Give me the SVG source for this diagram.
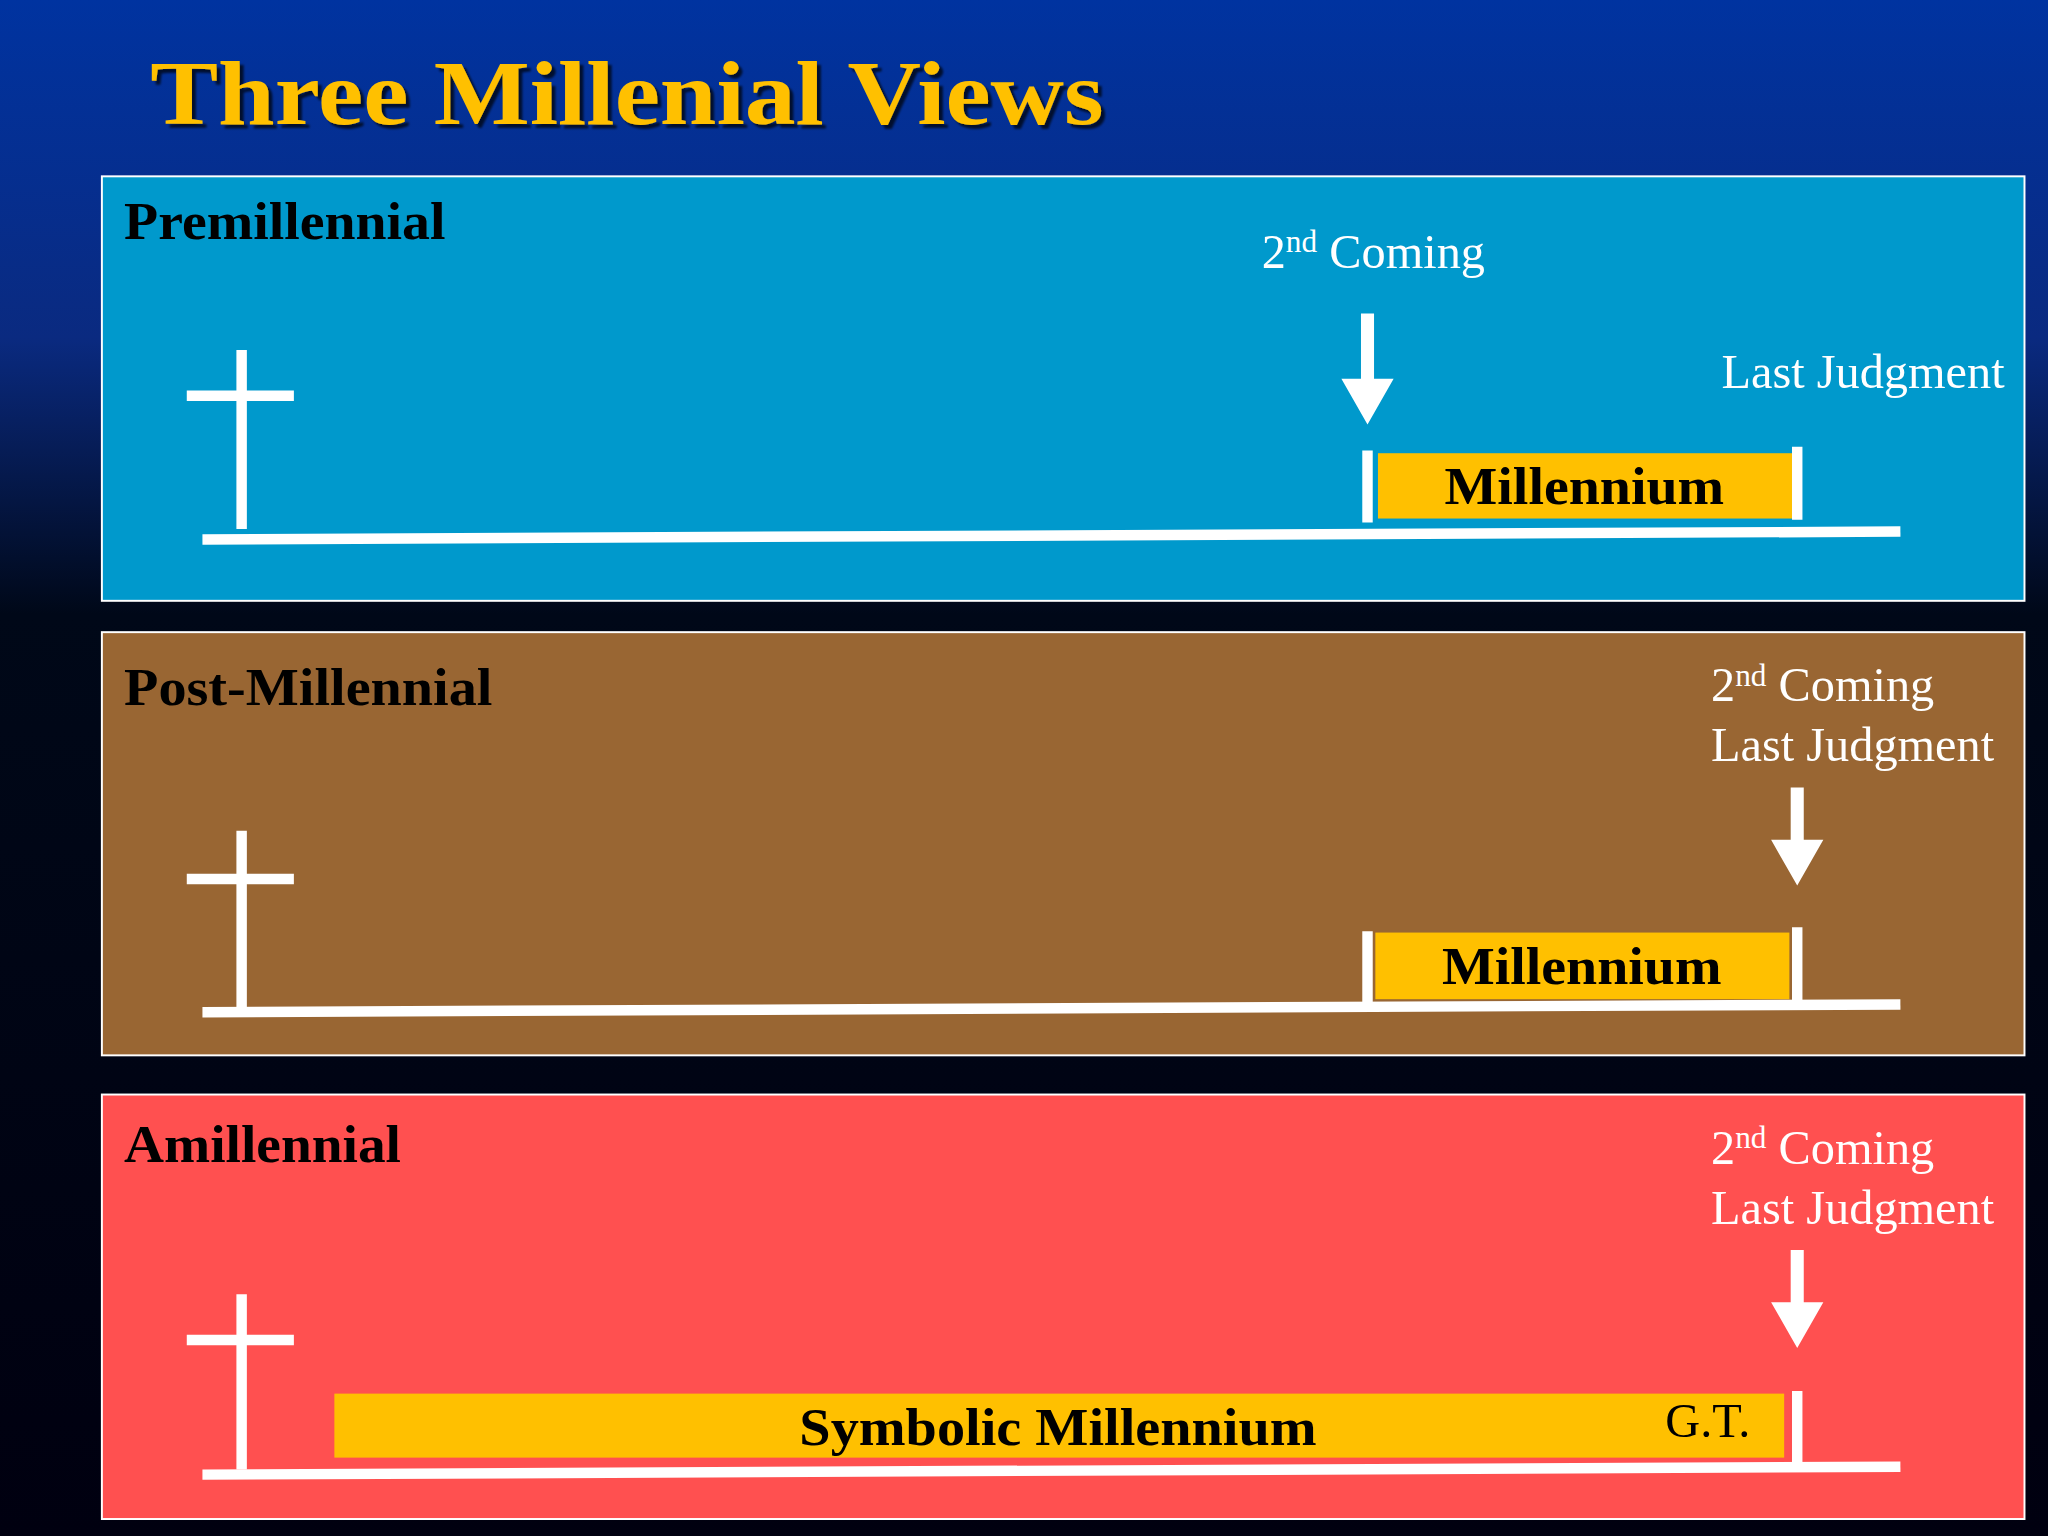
<svg xmlns="http://www.w3.org/2000/svg" width="2048" height="1536" viewBox="0 0 2048 1536">
<defs>
<linearGradient id="bg" x1="0" y1="0" x2="0" y2="1">
<stop offset="0" stop-color="#0033a0"/><stop offset="0.22" stop-color="#0a2a80"/><stop offset="0.4" stop-color="#000818"/><stop offset="1" stop-color="#000010"/>
</linearGradient>
<filter id="sh"><feDropShadow dx="3" dy="3" stdDeviation="1" flood-color="#000" flood-opacity="0.7"/></filter>
<style>
.panel{stroke:#fff;stroke-width:1.5}
.w{stroke:#fff;stroke-width:8;fill:none}
.hd{font-family:"Liberation Serif",serif;font-weight:bold;font-size:40px;fill:#000}
.lb{font-family:"Liberation Serif",serif;font-size:37px;fill:#fff}
.mb{font-family:"Liberation Serif",serif;font-weight:bold;font-size:40px;fill:#000;text-anchor:middle}
.box{fill:#ffc000}
.arr{fill:#fff}
</style>
</defs>
<rect width="2048" height="1536" fill="url(#bg)"/>
<g transform="scale(1.30612)">
<text x="115" y="95" font-family="Liberation Serif,serif" font-weight="bold" font-size="70" fill="#ffc000" filter="url(#sh)" textLength="730" lengthAdjust="spacingAndGlyphs">Three Millenial Views</text>

<g id="premillennial">
<rect class="panel" x="78" y="135" width="1472" height="325" fill="#0099cc"/>
<text class="hd" x="95" y="183" textLength="246" lengthAdjust="spacingAndGlyphs">Premillennial</text>
<path class="w" d="M185 268V405M143 303H225"/>
<rect class="box" x="1055" y="347" width="317" height="50"/>
<text class="mb" x="1213" y="386" textLength="214" lengthAdjust="spacingAndGlyphs">Millennium</text>
<path class="w" d="M1047 345V400M1376 342V398"/>
<path class="arr" d="M1042 240h10v50h15l-20 35l-20-35h15z"/>
<text class="lb" x="966" y="205">2<tspan font-size="24" dy="-12">nd</tspan><tspan dy="12"> Coming</tspan></text>
<text class="lb" x="1318" y="297">Last Judgment</text>
</g>

<g id="postmillennial">
<rect class="panel" x="78" y="484" width="1472" height="324" fill="#996633"/>
<text class="hd" x="95" y="540" textLength="282" lengthAdjust="spacingAndGlyphs">Post-Millennial</text>
<path class="w" d="M185 636V772M143 673H225"/>
<rect class="box" x="1053" y="714" width="317" height="51"/>
<text class="mb" x="1211" y="753" textLength="214" lengthAdjust="spacingAndGlyphs">Millennium</text>
<path class="w" d="M1047 713V768M1376 710V766"/>
<path class="arr" d="M1371 603h10v40h15l-20 35l-20-35h15z"/>
<text class="lb" x="1310" y="537">2<tspan font-size="24" dy="-12">nd</tspan><tspan dy="12"> Coming</tspan></text>
<text class="lb" x="1310" y="583">Last Judgment</text>
</g>

<g id="amillennial">
<rect class="panel" x="78" y="838" width="1472" height="325" fill="#ff5050"/>
<text class="hd" x="95" y="890" textLength="212" lengthAdjust="spacingAndGlyphs">Amillennial</text>
<path class="w" d="M185 991V1125M143 1026H225"/>
<rect class="box" x="256" y="1067" width="1110" height="49"/>
<text class="mb" x="810" y="1106" textLength="396" lengthAdjust="spacingAndGlyphs">Symbolic Millennium</text>
<text class="lb" x="1275" y="1100" style="fill:#000">G.T.</text>
<path class="w" d="M1376 1065V1120"/>
<path class="arr" d="M1371 957h10v40h15l-20 35l-20-35h15z"/>
<text class="lb" x="1310" y="891">2<tspan font-size="24" dy="-12">nd</tspan><tspan dy="12"> Coming</tspan></text>
<text class="lb" x="1310" y="937">Last Judgment</text>
</g>

<g id="connectors">
<path class="w" d="M155 413L1455 407"/>
<path class="w" d="M155 775L1455 769"/>
<path class="w" d="M155 1129L1455 1123"/>
</g>
</g>
</svg>
